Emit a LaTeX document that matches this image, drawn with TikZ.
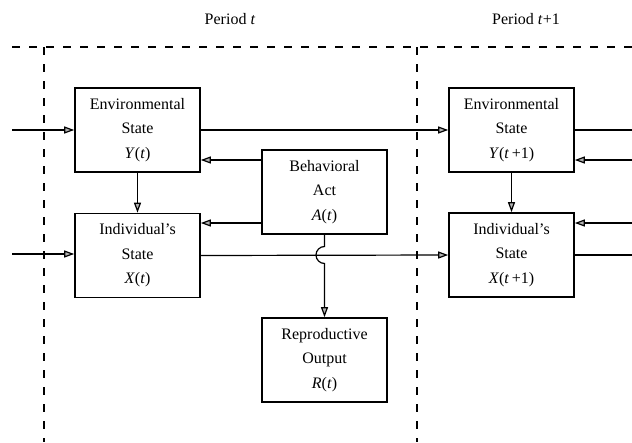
\documentclass[tikz,border=0pt]{standalone}
\usepackage{fontspec}
\setmainfont{Liberation Serif}
\usetikzlibrary{arrows.meta,calc}
\begin{document}
\begin{tikzpicture}[x=1pt,y=-1pt,
  box/.style={draw,line width=1.6pt,minimum width=125pt,minimum height=84pt,inner sep=0pt,align=center,font=\fontsize{16}{24.5}\selectfont},
  lbl/.style={font=\fontsize{16}{20}\selectfont},
  conn/.style={line width=1.2pt},
  arr/.style={conn,-{Triangle[length=10pt,width=7pt,fill=gray!60]}},
  dsh/.style={line width=1.2pt,dash pattern=on 8pt off 9pt}]
\useasboundingbox (0,0) rectangle (632,442);
% period labels
\node[lbl] (pt) at (230,19) {Period \textit{t}};
\node[lbl] (pt1) at (526,19) {Period \textit{t}+1};
% dashed frame
\coordinate (dl) at (12,47);
\coordinate (dr) at (632,47);
\draw[dsh] (dl) -- (dr);
\draw[dsh] (44,47) -- (44,442);
\draw[dsh] (417,47) -- (417,442);
% boxes
\node[box] (Y) at (137.5,130) {Environmental\\State\\\textit{Y}(\textit{t})};
\node[box] (X) at (137.5,255.5) {Individual's\\State\\\textit{X}(\textit{t})};
\node[box] (A) at (324.5,192) {Behavioral\\Act\\\textit{A}(\textit{t})};
\node[box] (R) at (324.5,360) {Reproductive\\Output\\\textit{R}(\textit{t})};
\node[box] (Yn) at (511.5,130) {Environmental\\State\\\textit{Y}(\textit{t}\,+1)};
\node[box] (Xn) at (511.5,255) {Individual's\\State\\\textit{X}(\textit{t}\,+1)};
% free ends
\coordinate (inY) at (12,130);
\coordinate (inX) at (12,254);
\coordinate (outY) at (632,130);
\coordinate (outX) at (632,255);
\coordinate (fbY) at (632,160);
\coordinate (fbX) at (632,223);
% connectors
\draw[arr] (inY) -- (Y.west);
\draw[arr] (inX) -- (inX -| X.west);
\draw[arr] (Y.east) -- (Yn.west);
\draw[arr] (X.east) -- (Xn.west);
\draw[arr] (Y.south) -- (X.north);
\draw[arr] (Yn.south) -- (Xn.north);
\draw[arr] ([yshift=32pt]A.west) -- ([yshift=32pt]A.west -| Y.east);
\draw[arr] ([yshift=-31pt]A.west) -- ([yshift=-31pt]A.west -| X.east);
\draw[conn] (Yn.east) -- (outY);
\draw[conn] (Xn.east) -- (outX);
\draw[arr] (fbY) -- (fbY -| Yn.east);
\draw[arr] (fbX) -- (fbX -| Xn.east);
\draw[arr] (A.south) -- (324.5,246.5) arc[start angle=-90,end angle=-270,radius=8.5] -- (R.north);
\end{tikzpicture}
\end{document}
